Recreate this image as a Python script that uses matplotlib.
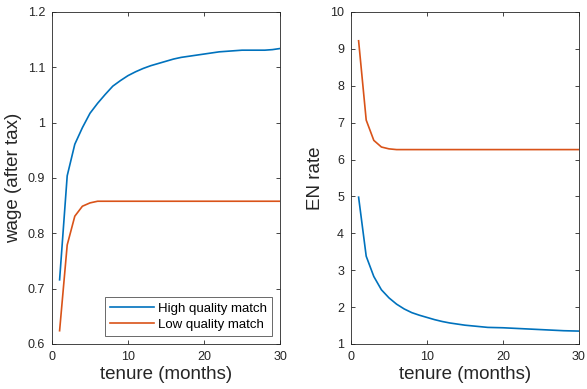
import numpy as np
import matplotlib.pyplot as plt

plt.rcParams['font.family'] = ['Liberation Sans', 'DejaVu Sans']

# tenure in months
tenure = list(range(1, 31))

# wages (after tax)
wage_high = [0.716, 0.904, 0.961, 0.991, 1.017, 1.035, 1.051, 1.066, 1.076, 1.085,
             1.092, 1.098, 1.103, 1.107, 1.111, 1.115, 1.118, 1.120, 1.122, 1.124,
             1.126, 1.128, 1.129, 1.130, 1.131, 1.131, 1.131, 1.131, 1.132, 1.134]
wage_low = [0.624, 0.779, 0.831, 0.849, 0.855, 0.858, 0.858, 0.858, 0.858, 0.858,
            0.858, 0.858, 0.858, 0.858, 0.858, 0.858, 0.858, 0.858, 0.858, 0.858,
            0.858, 0.858, 0.858, 0.858, 0.858, 0.858, 0.858, 0.858, 0.858, 0.858]

# EN rates
en_high = [4.98, 3.38, 2.83, 2.47, 2.25, 2.08, 1.95, 1.85, 1.78, 1.72,
           1.66, 1.61, 1.57, 1.54, 1.51, 1.49, 1.47, 1.45, 1.445, 1.44,
           1.43, 1.42, 1.41, 1.40, 1.39, 1.38, 1.37, 1.36, 1.355, 1.35]
en_low = [9.22, 7.07, 6.52, 6.34, 6.29, 6.27, 6.27, 6.27, 6.27, 6.27,
          6.27, 6.27, 6.27, 6.27, 6.27, 6.27, 6.27, 6.27, 6.27, 6.27,
          6.27, 6.27, 6.27, 6.27, 6.27, 6.27, 6.27, 6.27, 6.27, 6.27]

blue = '#0072BD'
orange = '#D95319'
dark = '#262626'

fig = plt.figure(figsize=(5.87, 3.89), dpi=100)
W, H = 587, 389
ax1 = fig.add_axes([52 / W, 1 - 344 / H, 228 / W, 332 / H])
ax2 = fig.add_axes([351 / W, 1 - 344 / H, 228 / W, 332 / H])

def style(ax):
    ax.tick_params(direction='in', top=True, right=True, labelsize=9,
                   colors=dark, length=3, width=0.6, pad=5)
    for s in ax.spines.values():
        s.set_color(dark)
        s.set_linewidth(0.6)

ax1.plot(tenure, wage_high, color=blue, lw=1.2, label='High quality match')
ax1.plot(tenure, wage_low, color=orange, lw=1.2, label='Low quality match')
ax1.set_xlim(0, 30)
ax1.set_ylim(0.6, 1.2)
ax1.set_xticks([0, 10, 20, 30])
ax1.set_yticks([0.6, 0.7, 0.8, 0.9, 1.0, 1.1, 1.2])
ax1.set_yticklabels(['0.6', '0.7', '0.8', '0.9', '1', '1.1', '1.2'])
ax1.set_xlabel('tenure (months)', fontsize=13.5, color=dark, labelpad=2)
ax1.set_ylabel('wage (after tax)', fontsize=13.5, color=dark, labelpad=4)
style(ax1)
leg = ax1.legend(loc='lower right', fontsize=9.5, frameon=True, fancybox=False,
                 borderaxespad=0.6, handlelength=3.3, handletextpad=0.3,
                 borderpad=0.4, labelspacing=0.3)
leg.get_frame().set_edgecolor(dark)
leg.get_frame().set_linewidth(0.6)

ax2.plot(tenure, en_high, color=blue, lw=1.2)
ax2.plot(tenure, en_low, color=orange, lw=1.2)
ax2.set_xlim(0, 30)
ax2.set_ylim(1, 10)
ax2.set_xticks([0, 10, 20, 30])
ax2.set_yticks(range(1, 11))
ax2.set_xlabel('tenure (months)', fontsize=13.5, color=dark, labelpad=2)
ax2.set_ylabel('EN rate', fontsize=13.5, color=dark, labelpad=4)
style(ax2)

fig.savefig('out.png', dpi=100)
